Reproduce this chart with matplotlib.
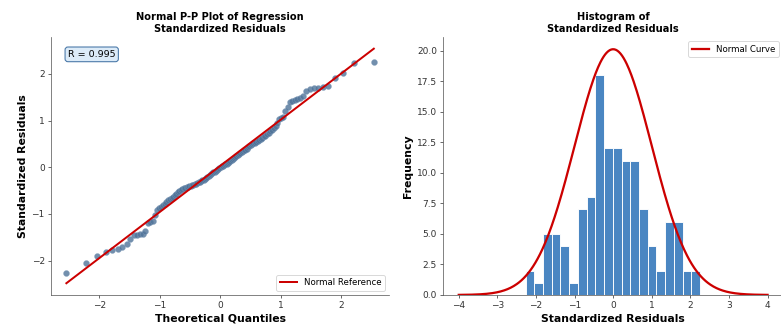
from matplotlib import pyplot as plt
from statistics import NormalDist
import numpy as np

resid = [-2.27, -2.06, -1.90, -1.81, -1.78, -1.75, -1.71, -1.64,
         -1.53, -1.46, -1.45, -1.44, -1.43,
         -1.36, -1.20, -1.18, -1.16,
         -1.02,
         -0.91, -0.88, -0.85, -0.81, -0.78, -0.75, -0.71,
         -0.68, -0.66, -0.63, -0.60, -0.57, -0.54, -0.51, -0.48,
         -0.46, -0.45, -0.44, -0.43, -0.42, -0.41, -0.40, -0.39, -0.37,
         -0.36, -0.35, -0.34, -0.32, -0.31, -0.30, -0.28, -0.27, -0.25,
         -0.23, -0.21, -0.19, -0.17, -0.15, -0.13, -0.11, -0.10, -0.08, -0.06, -0.04, -0.02,
         0.00, 0.02, 0.03, 0.05, 0.07, 0.08, 0.10, 0.12, 0.14, 0.16, 0.18, 0.20,
         0.22, 0.24, 0.26, 0.28, 0.30, 0.32, 0.34, 0.36, 0.38, 0.40, 0.43,
         0.45, 0.47, 0.49, 0.51, 0.53, 0.55, 0.57, 0.59, 0.61, 0.63, 0.66,
         0.68, 0.71, 0.74, 0.77, 0.80, 0.84, 0.88,
         0.95, 1.03, 1.06, 1.08,
         1.20, 1.30,
         1.40, 1.43, 1.45, 1.47, 1.49, 1.52,
         1.63, 1.68, 1.69, 1.70, 1.72, 1.74,
         1.91, 2.01,
         2.24, 2.25]
r_value = 0.995
n_bins = 20
curve_mu, curve_sigma, curve_scale = 0.0, 1.0, 50.4

n = len(resid)
# theoretical quantiles (Filliben plotting positions)
pos = [(i - 0.3175) / (n + 0.365) for i in range(1, n + 1)]
pos[0] = 1 - 0.5 ** (1 / n)
pos[-1] = 0.5 ** (1 / n)
theo = np.array([NormalDist().inv_cdf(p) for p in pos])
y = np.array(resid)
slope, intercept = np.polyfit(theo, y, 1)

fig = plt.figure(figsize=(781 / 65, 327 / 65), dpi=65)
ax1 = fig.add_axes([0.0653, 0.098, 0.433, 0.789])
ax2 = fig.add_axes([0.5676, 0.098, 0.435, 0.789])

dot_col = '#4f7399'
red = '#cc0000'

ax1.scatter(theo, y, s=44, color=dot_col, alpha=0.8, edgecolors='#7f9cbb', linewidths=0.4)
ax1.plot(theo, slope * theo + intercept, color=red, lw=2.2, label='Normal Reference')
ax1.set_title('Normal P-P Plot of Regression\nStandardized Residuals', fontsize=11, fontweight='bold')
ax1.set_xlabel('Theoretical Quantiles', fontsize=12, fontweight='bold')
ax1.set_ylabel('Standardized Residuals', fontsize=12, fontweight='bold')
ax1.text(0.05, 0.95, 'R = %.3f' % r_value, transform=ax1.transAxes, fontsize=10.5,
         va='top', ha='left',
         bbox=dict(boxstyle='round,pad=0.3', facecolor='#dcebf8', edgecolor='#4a78a8', lw=1.2))
ax1.legend(loc='lower right', fontsize=9.5)

ax2.hist(y, bins=n_bins, color='#4a86c2', edgecolor='white', linewidth=1)
xs = np.linspace(-4, 4, 400)
curve = curve_scale * np.exp(-0.5 * ((xs - curve_mu) / curve_sigma) ** 2) / (curve_sigma * np.sqrt(2 * np.pi))
ax2.plot(xs, curve, color=red, lw=2.5, label='Normal Curve')
ax2.set_title('Histogram of\nStandardized Residuals', fontsize=11, fontweight='bold')
ax2.set_xlabel('Standardized Residuals', fontsize=12, fontweight='bold')
ax2.set_ylabel('Frequency', fontsize=12, fontweight='bold')
ax2.legend(loc='upper right', fontsize=9.5)

for ax in (ax1, ax2):
    ax.spines['top'].set_visible(False)
    ax.spines['right'].set_visible(False)
    for s in ('left', 'bottom'):
        ax.spines[s].set_color('#555555')
    ax.tick_params(labelsize=10, colors='#333333')

fig.savefig('out.png', dpi=65)
